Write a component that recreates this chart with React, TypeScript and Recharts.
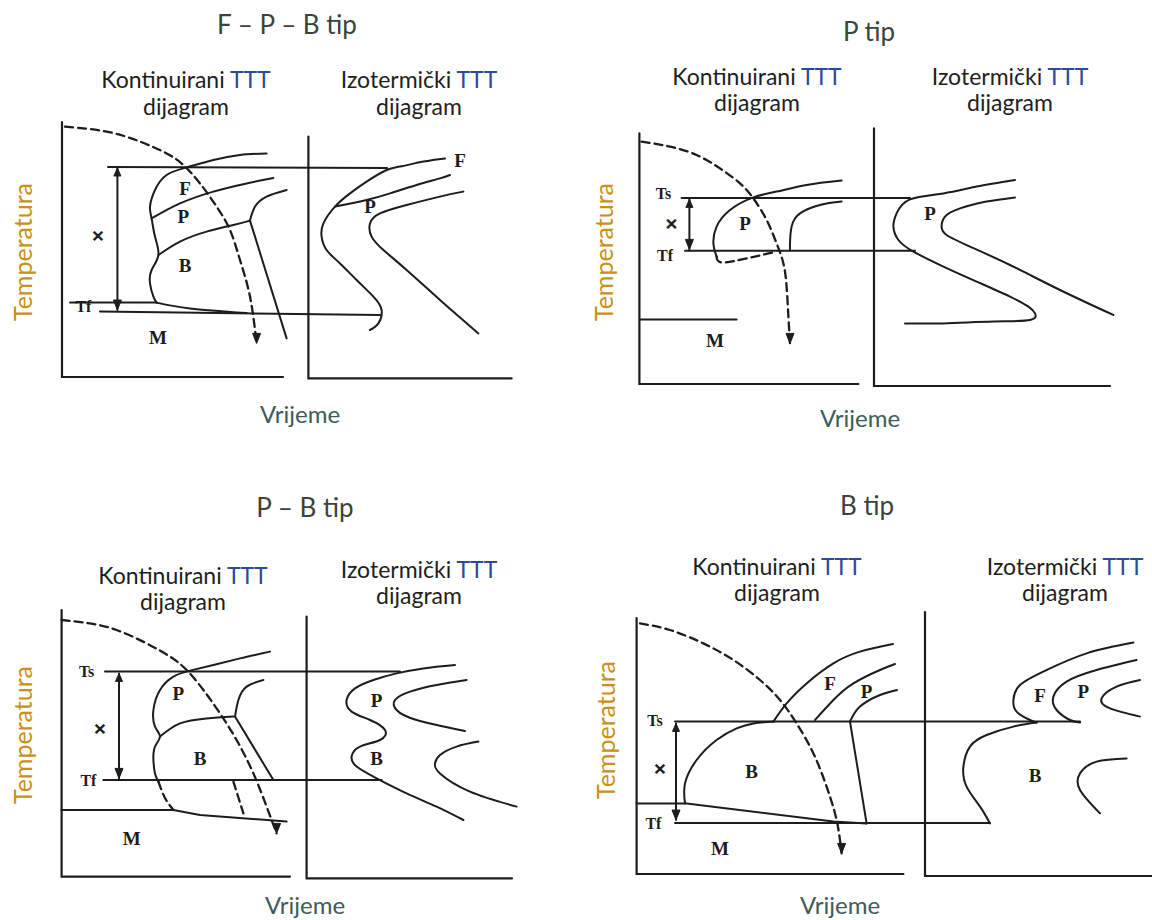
import React from 'react';
import { ComposedChart, Line, Scatter, XAxis, YAxis } from 'recharts';

// t = vrijeme (proizvoljne jedinice), T = temperatura (proizvoljne jedinice)
type Pt = { t: number; T: number };
type Lbl = { t: number; T: number; label: string };

const pts = (a: number[][]): Pt[] => a.map(([t, T]) => ({ t, T }));
const lbls = (a: [number, number, string][]): Lbl[] => a.map(([t, T, label]) => ({ t, T, label }));

// ---------- F – P – B tip ----------
const fpbContAxis = pts([[6, 134], [6, 6.5], [116.5, 6.5]]);
const fpbIsoAxis = pts([[129.2, 126.7], [129.2, 5.8], [230.8, 5.8]]);
const fpbCooling = pts([[7.5, 131.7], [28.3, 129.2], [45, 124.2], [58.3, 118.3], [66.7, 112.5], [75, 103.3], [83.3, 91.7], [90, 80], [95, 65], [100, 46.7], [103.3, 23.3]]);
const fpbTs = pts([[29, 111.5], [168.5, 111]]);
const fpbTfUpper = pts([[10, 43.7], [53.3, 43.7]]);
const fpbTfLower = pts([[25, 39.3], [165, 37.5]]);
const fpbBBottom = pts([[53.3, 43.7], [70, 40.8], [98.3, 38.5]]);
const fpbX = pts([[33.7, 111], [33.7, 40]]);
const fpbStart = pts([[108.3, 118.3], [95, 117.5], [81.7, 115], [68.3, 111.3], [58.3, 107.5], [52.5, 100], [50, 91.7], [50.8, 85.8], [52.5, 76.7], [54.2, 67.5], [50.8, 60], [50, 53.3], [51.7, 46.7], [53.3, 43.7]]);
const fpbFP = pts([[50.8, 85.8], [65, 93.3], [81.7, 99.2], [98.3, 103.3], [111.7, 106]]);
const fpbPB = pts([[54.2, 67.5], [65, 74.2], [78.3, 79.2], [91.7, 82.5], [100, 84.7]]);
const fpbFinishTop = pts([[118.3, 100], [108.3, 96.7], [102.5, 91.7], [100, 84.7]]);
const fpbFinishLine = pts([[100, 84.7], [118.3, 25.8]]);
const fpbIsoF = pts([[197.5, 115.8], [186.7, 114.2], [175, 111.7], [168.3, 110], [158.3, 104.2], [150, 98.3], [142.5, 91.7], [136.7, 83.3], [135.8, 76.7], [138.3, 70], [145, 63.3], [153.3, 55], [161.7, 46.7], [165.8, 40], [164.2, 33.3], [160, 30]]);
const fpbIsoP = pts([[200, 107.5], [195, 105.8], [183.3, 102.5], [170, 98.3], [158.3, 95], [142.5, 91.7]]);
const fpbIsoPf = pts([[206.7, 99.2], [195, 96.7], [178.3, 92.5], [165, 88.3], [160, 83.3], [160.8, 76.7], [166.7, 70], [178.3, 60], [195, 45], [214.2, 28.3]]);
const fpbLabels = lbls([[67.5, 100.8, 'F'], [66.7, 86.7, 'P'], [67.5, 62.5, 'B'], [54, 26.5, 'M'], [24, 77.5, '×'], [16.7, 41.7, 'Tf'], [205, 115, 'F'], [160, 91.7, 'P']]);
const fpbUp = pts([[33.7, 111]]);
const fpbDown = pts([[103.3, 23.3], [33.7, 40]]);

// ---------- P tip ----------
const pContAxis = pts([[4.7, 128.3], [4.7, 3], [114.2, 3]]);
const pIsoAxis = pts([[122, 130.8], [122, 2], [240, 2]]);
const pCooling = pts([[5.8, 124.2], [20, 121.7], [33.3, 117.5], [45, 110.8], [55, 103.3], [61.7, 95.8], [68.3, 85], [73.3, 73.3], [76.7, 63.3], [78.3, 51.7], [79.2, 36.7], [80, 23.3]]);
const pTs = pts([[25.8, 96], [140, 96]]);
const pTf = pts([[27.5, 69.6], [142.5, 69.6]]);
const pX = pts([[29.7, 95.3], [29.7, 70.3]]);
const pStart = pts([[105.8, 104.7], [88.3, 102.5], [73.3, 99.2], [61.7, 96.3], [50, 90], [43.3, 81.7], [41.7, 73.3], [43.3, 66.7]]);
const pStartDash = pts([[43.3, 66.7], [46, 63.8], [58.3, 65.8], [73.3, 69.2]]);
const pFinish = pts([[105.8, 94.2], [95, 92.5], [85, 88.3], [80.8, 81.7], [80, 73.3], [80, 70.3]]);
const pM = pts([[5, 35.3], [53.3, 35.3]]);
const pIsoStart = pts([[192.5, 105], [173.3, 101.7], [156.7, 98.3], [140, 95.3], [133.3, 88.3], [131.7, 81.7], [134.2, 75], [141.7, 69.2], [156.7, 61.7], [173.3, 54.2], [190, 46.7], [199.2, 41.7], [202.5, 38.3], [200, 35], [181.7, 34.2], [156.7, 33.3], [137.5, 33.3]]);
const pIsoFinish = pts([[192.5, 96.3], [178.3, 94.2], [165, 90.8], [157.5, 86.7], [155.8, 81.7], [158.3, 77.5], [170, 71.7], [190, 62.5], [215, 50], [241.7, 37.5]]);
const pLabels = lbls([[16.7, 98.3, 'Ts'], [17.5, 67.5, 'Tf'], [20.8, 83.3, '×'], [57.5, 83.3, 'P'], [42.5, 25, 'M'], [150, 88.3, 'P']]);
const pUp = pts([[29.7, 95.3]]);
const pDown = pts([[80, 23.3], [29.7, 70.3]]);

// ---------- P – B tip ----------
const pbContAxis = pts([[5.8, 135], [5.8, 1.7], [120, 1.7]]);
const pbIsoAxis = pts([[128.3, 131.7], [128.3, 0.8], [231, 0.8]]);
const pbCooling = pts([[5.8, 130], [20, 128.3], [33.3, 125], [48.3, 118.3], [60, 111.7], [68.3, 105], [76.7, 95], [85, 83.3], [93.3, 70], [101.7, 53.3], [108.3, 36.7], [113.3, 23.3]]);
const pbTs = pts([[27.5, 104.2], [175, 104.2]]);
const pbTf = pts([[26.7, 50], [165.8, 50]]);
const pbX = pts([[34.5, 103.3], [34.5, 50.8]]);
const pbStart = pts([[110, 114.2], [95, 110.8], [81.7, 107.5], [70, 104.7], [61.7, 101.7], [55, 95], [51.7, 85], [52.5, 76.7], [55, 71.7], [52.5, 66.7], [51.7, 60], [52.5, 53.3], [54.2, 49.2]]);
const pbStartDash = pts([[54.2, 49.2], [57.5, 41], [61.7, 35]]);
const pbPB = pts([[55, 71.7], [65, 78.3], [78.3, 80.8], [91.7, 81.7]]);
const pbFinishTop = pts([[106.7, 100], [98.3, 96.7], [94.2, 90], [92.5, 81.7]]);
const pbFinishLine = pts([[92.5, 81.7], [111.7, 50]]);
const pbBFinishDash = pts([[91.7, 49.2], [96.7, 33.3]]);
const pbM = pts([[5.8, 35], [61.7, 35], [75, 32.5], [118.3, 29.2]]);
const pbIsoStart = pts([[202.5, 107.5], [186.7, 105.8], [173.3, 103.3], [161.7, 100], [152.5, 95.8], [148.3, 90], [150.8, 84.2], [160, 80], [167.5, 75], [165, 70], [155, 66.7], [150.8, 61.7], [153.3, 56.7], [163.3, 50.8], [178.3, 43.3], [193.3, 36.7], [206.7, 30]]);
const pbIsoPf = pts([[208.3, 100], [193.3, 97.5], [180, 94.2], [172.5, 90], [173.3, 85], [183.3, 80], [207.5, 74.5]]);
const pbIsoBf = pts([[214.2, 69.2], [203.3, 66.7], [195, 62.5], [192.5, 58.3], [195, 53.3], [210, 44.2], [233.3, 36.7]]);
const pbLabels = lbls([[18.3, 104.2, 'Ts'], [19.2, 50, 'Tf'], [25, 75.8, '×'], [64.2, 93.3, 'P'], [75, 60.8, 'B'], [40.8, 20.8, 'M'], [163.3, 90, 'P'], [163.3, 60.8, 'B']]);
const pbUp = pts([[34.5, 103.3]]);
const pbDown = pts([[113.3, 23.3], [34.5, 50.8]]);

// ---------- B tip ----------
const bContAxis = pts([[3.3, 131], [3.3, 3], [136.7, 3]]);
const bIsoAxis = pts([[147.5, 134], [147.5, 2], [261, 2]]);
const bCooling = pts([[5, 128.3], [20, 125], [36.7, 118.3], [51.7, 110], [65, 100], [75, 90], [83.3, 78.3], [91.7, 63.3], [98.3, 46.7], [103.3, 30], [105.8, 13.3]]);
const bTs = pts([[22.5, 79.2], [225, 79.2]]);
const bTf = pts([[22.5, 28.5], [180, 28.5]]);
const bX = pts([[23, 78.3], [23, 30]]);
const bLower = pts([[3.3, 38.3], [28.3, 38.3], [101.7, 29.2], [118.3, 28.3]]);
const bStart = pts([[27.5, 38.3], [27.5, 48.3], [33.3, 60], [43.3, 70], [53.3, 75.8], [61.7, 78.3], [71.7, 79.2]]);
const bFStart = pts([[71.7, 79.2], [78.3, 88.3], [88.3, 98.3], [101.7, 108.3], [115, 114.2], [131.5, 118]]);
const bPStart = pts([[92.5, 80], [101.7, 90], [111.7, 98.3], [125, 105], [132.5, 108]]);
const bPFinish = pts([[110, 79.2], [115, 86.7], [125, 92.5], [133.5, 95]]);
const bBFinish = pts([[110, 79.2], [118.3, 28.3]]);
const bIsoF = pts([[251.7, 118.7], [228.3, 113.3], [208.3, 105], [195, 97.5], [191.7, 90], [193.3, 84.2], [200, 80], [203.3, 78.7]]);
const bIsoB = pts([[203.3, 78.7], [191.7, 76.7], [178.3, 72.5], [170, 66.7], [166.7, 56.7], [168.3, 46.7], [175, 36.7], [180, 28.3]]);
const bIsoP = pts([[253.3, 110], [233.3, 105], [218.3, 99.2], [211.7, 91.7], [213.3, 85], [220, 80], [225, 78.7]]);
const bIsoPf = pts([[255, 100], [243.3, 96.7], [235.8, 90.8], [240, 85.8], [255, 81.7]]);
const bIsoBf = pts([[248.3, 60.8], [233.3, 59.2], [225, 53.3], [225, 45], [235, 33.3]]);
const bLabels = lbls([[12.5, 80, 'Ts'], [11.7, 28.3, 'Tf'], [15, 55.8, '×'], [60.8, 54.2, 'B'], [45, 15.8, 'M'], [100, 98.3, 'F'], [118.3, 94.2, 'P'], [205, 92.5, 'F'], [226.7, 94.2, 'P'], [202.5, 52.5, 'B']]);
const bUp = pts([[23, 78.3]]);
const bDown = pts([[105.8, 13.3], [23, 30]]);

type Kind = 'curve' | 'straight' | 'dash' | 'dashStraight' | 'axis';
type Curve = [Pt[], Kind];

const INK = '#1c1c1c';

const renderLabel = (p: any) => {
  const l = p.payload.label;
  const small = l === 'Ts' || l === 'Tf';
  return (
    <text
      x={p.cx}
      y={p.cy}
      textAnchor="middle"
      dominantBaseline="central"
      fontFamily="'Liberation Serif', 'DejaVu Serif', serif"
      fontSize={l === '×' ? 22 : small ? 16 : 19}
      fontWeight={600}
      stroke={l === '×' ? INK : undefined}
      strokeWidth={l === '×' ? 0.8 : undefined}
      fill={INK}
    >
      {l}
    </text>
  );
};

const arrowDown = (p: any) => (
  <path d={`M${p.cx - 4},${p.cy - 10} L${p.cx},${p.cy} L${p.cx + 4},${p.cy - 10} Z`} fill={INK} stroke={INK} strokeWidth={1} />
);

const arrowUp = (p: any) => (
  <path d={`M${p.cx - 3.5},${p.cy + 8} L${p.cx},${p.cy} L${p.cx + 3.5},${p.cy + 8} Z`} fill={INK} stroke={INK} strokeWidth={1} />
);

type PanelProps = {
  left: number;
  top: number;
  width: number;
  curves: Curve[];
  labels: Lbl[];
  up: Pt[];
  down: Pt[];
};

const Panel = ({ left, top, width, curves, labels, up, down }: PanelProps) => (
  <div style={{ position: 'absolute', left, top }}>
    <ComposedChart width={width} height={280} margin={{ top: 0, right: 0, bottom: 0, left: 0 }}>
      <XAxis type="number" dataKey="t" domain={[0, width / 2]} hide />
      <YAxis type="number" domain={[0, 140]} hide />
      {curves.map(([data, kind], i) => (
        <Line
          key={i}
          data={data}
          dataKey="T"
          type={kind === 'curve' || kind === 'dash' ? 'natural' : 'linear'}
          stroke={INK}
          strokeWidth={kind === 'axis' ? 2.2 : kind === 'dash' || kind === 'dashStraight' ? 2.3 : 2}
          strokeDasharray={kind === 'dash' || kind === 'dashStraight' ? '8 5' : undefined}
          strokeLinecap="round"
          dot={false}
          activeDot={false}
          isAnimationActive={false}
        />
      ))}
      <Scatter data={down} dataKey="T" shape={arrowDown} isAnimationActive={false} />
      <Scatter data={up} dataKey="T" shape={arrowUp} isAnimationActive={false} />
      <Scatter data={labels} dataKey="T" shape={renderLabel} isAnimationActive={false} />
    </ComposedChart>
  </div>
);

const SANS = "Lato, 'Open Sans', sans-serif";

const Txt = ({ x, y, size, color, children, rotate }: any) => (
  <div
    style={{
      position: 'absolute',
      left: x,
      top: y,
      transform: `translate(-50%, -50%)${rotate ? ' rotate(-90deg)' : ''}`,
      fontFamily: SANS,
      fontSize: size,
      color,
      lineHeight: 1,
      whiteSpace: 'nowrap',
    }}
  >
    {children}
  </div>
);

const Sub = ({ x, y1, y2, first }: { x: number; y1: number; y2: number; first: string }) => (
  <>
    <Txt x={x} y={y1} size={23} color="#1e1e1e">
      {first} <span style={{ color: '#2b4a9c' }}>TTT</span>
    </Txt>
    <Txt x={x} y={y2} size={23} color="#1e1e1e">
      dijagram
    </Txt>
  </>
);

export default function App() {
  return (
    <div style={{ position: 'absolute', left: 0, top: 0, width: 1152, height: 920, background: '#fff', overflow: 'hidden' }}>
      {/* F – P – B tip */}
      <Txt x={287} y={24} size={26} color="#3a443a">F – P – B tip</Txt>
      <Sub x={186} y1={79} y2={106} first="Kontinuirani" />
      <Sub x={419} y1={79} y2={106} first="Izotermički" />
      <Txt x={22} y={252} size={25} color="#c98f18" rotate>Temperatura</Txt>
      <Txt x={300} y={414} size={24} color="#3d5b5b">Vrijeme</Txt>
      <Panel
        left={50}
        top={110}
        width={500}
        curves={[
          [fpbContAxis, 'axis'], [fpbIsoAxis, 'axis'], [fpbCooling, 'dash'], [fpbTs, 'straight'],
          [fpbTfUpper, 'straight'], [fpbTfLower, 'straight'], [fpbBBottom, 'curve'], [fpbX, 'straight'],
          [fpbStart, 'curve'], [fpbFP, 'curve'], [fpbPB, 'curve'], [fpbFinishTop, 'curve'],
          [fpbFinishLine, 'straight'], [fpbIsoF, 'curve'], [fpbIsoP, 'curve'], [fpbIsoPf, 'curve'],
        ]}
        labels={fpbLabels}
        up={fpbUp}
        down={fpbDown}
      />

      {/* P tip */}
      <Txt x={869} y={31} size={26} color="#3a443a">P tip</Txt>
      <Sub x={757} y1={76} y2={102} first="Kontinuirani" />
      <Sub x={1010} y1={76} y2={102} first="Izotermički" />
      <Txt x={603} y={252} size={25} color="#c98f18" rotate>Temperatura</Txt>
      <Txt x={860} y={418} size={24} color="#3d5b5b">Vrijeme</Txt>
      <Panel
        left={630}
        top={110}
        width={500}
        curves={[
          [pContAxis, 'axis'], [pIsoAxis, 'axis'], [pCooling, 'dash'], [pTs, 'straight'], [pTf, 'straight'],
          [pX, 'straight'], [pStart, 'curve'], [pStartDash, 'dash'], [pFinish, 'curve'], [pM, 'straight'],
          [pIsoStart, 'curve'], [pIsoFinish, 'curve'],
        ]}
        labels={pLabels}
        up={pUp}
        down={pDown}
      />

      {/* P – B tip */}
      <Txt x={305} y={507} size={26} color="#3a443a">P – B tip</Txt>
      <Sub x={183} y1={575} y2={601} first="Kontinuirani" />
      <Sub x={419} y1={569} y2={595} first="Izotermički" />
      <Txt x={22} y={735} size={25} color="#c98f18" rotate>Temperatura</Txt>
      <Txt x={305} y={905} size={24} color="#3d5b5b">Vrijeme</Txt>
      <Panel
        left={50}
        top={600}
        width={500}
        curves={[
          [pbContAxis, 'axis'], [pbIsoAxis, 'axis'], [pbCooling, 'dash'], [pbTs, 'straight'], [pbTf, 'straight'],
          [pbX, 'straight'], [pbStart, 'curve'], [pbStartDash, 'dash'], [pbPB, 'curve'], [pbFinishTop, 'curve'],
          [pbFinishLine, 'straight'], [pbBFinishDash, 'dashStraight'], [pbM, 'straight'],
          [pbIsoStart, 'curve'], [pbIsoPf, 'curve'], [pbIsoBf, 'curve'],
        ]}
        labels={pbLabels}
        up={pbUp}
        down={pbDown}
      />

      {/* B tip */}
      <Txt x={867} y={505} size={26} color="#3a443a">B tip</Txt>
      <Sub x={777} y1={566} y2={592} first="Kontinuirani" />
      <Sub x={1065} y1={566} y2={592} first="Izotermički" />
      <Txt x={605} y={730} size={25} color="#c98f18" rotate>Temperatura</Txt>
      <Txt x={840} y={905} size={24} color="#3d5b5b">Vrijeme</Txt>
      <Panel
        left={630}
        top={600}
        width={522}
        curves={[
          [bContAxis, 'axis'], [bIsoAxis, 'axis'], [bCooling, 'dash'], [bTs, 'straight'], [bTf, 'straight'],
          [bX, 'straight'], [bLower, 'straight'], [bStart, 'curve'], [bFStart, 'curve'], [bPStart, 'curve'],
          [bPFinish, 'curve'], [bBFinish, 'straight'], [bIsoF, 'curve'], [bIsoB, 'curve'], [bIsoP, 'curve'],
          [bIsoPf, 'curve'], [bIsoBf, 'curve'],
        ]}
        labels={bLabels}
        up={bUp}
        down={bDown}
      />
    </div>
  );
}
